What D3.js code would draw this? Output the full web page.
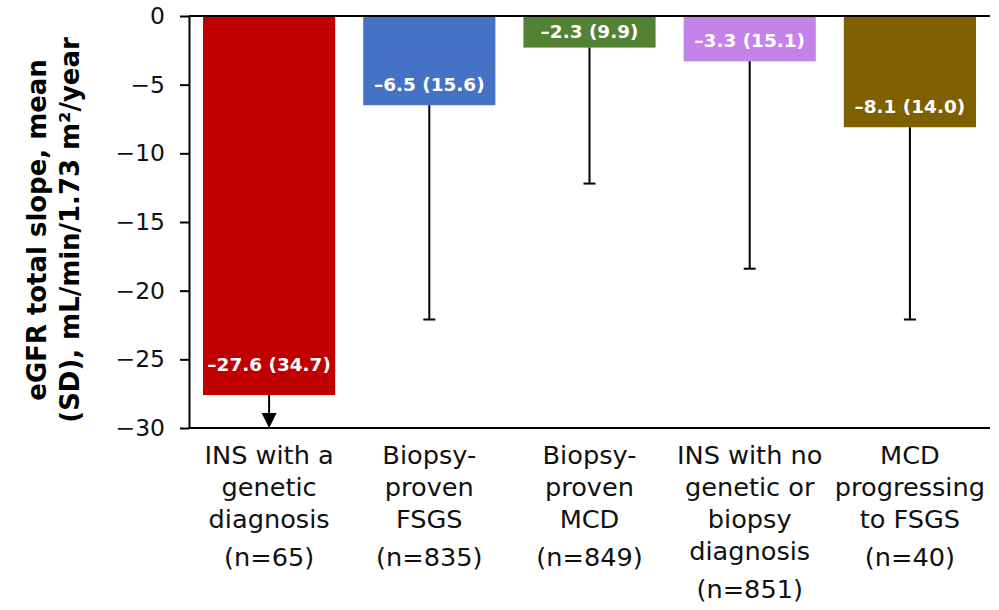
<!DOCTYPE html>
<html><head><meta charset="utf-8">
<script src="https://cdn.jsdelivr.net/npm/d3@7"></script>
<style>body{margin:0;background:#fff} svg{display:block}</style>
</head><body>
<script>
const categories = [
  ["INS with a","genetic","diagnosis"],
  ["Biopsy-","proven","FSGS"],
  ["Biopsy-","proven","MCD"],
  ["INS with no","genetic or","biopsy","diagnosis"],
  ["MCD","progressing","to FSGS"]
];
const nLabels = ["(n=65)","(n=835)","(n=849)","(n=851)","(n=40)"];
const means = [-27.6, -6.5, -2.3, -3.3, -8.1];
const sds = [34.7, 15.6, 9.9, 15.1, 14.0];
const colors = ["#C00000","#4472C4","#548235","#C383E8","#7F6000"];
const yTicks = [0, -5, -10, -15, -20, -25, -30];
const yTitle = ["eGFR total slope, mean", "(SD), mL/min/1.73 m\u00B2/year"];

const W = 999, H = 610;
const FONT = "'DejaVu Sans', sans-serif";
const svg = d3.select("body").append("svg").attr("width", W).attr("height", H)
  .style("font-family", FONT);

const x = d3.scaleBand().domain(d3.range(means.length)).range([189, 990])
  .paddingInner(0.175).paddingOuter(0.0875);
const y = d3.scaleLinear().domain([0, -30]).range([16, 428]);

function fitSize(text, target, base, weight) {
  const t = svg.append("text").style("font-family", FONT).style("font-size", base + "px")
    .style("font-weight", weight || "normal").text(text);
  const w = t.node().getComputedTextLength();
  t.remove();
  return base * target / w;
}

const tickFS = fitSize("\u221210", 45, 20) * 1.1;
const catFS = fitSize("INS with a", 122, 20) * 1.06;
const barFS = fitSize("\u221227.6 (34.7)", 118, 18, "bold") * 1.1;
const titleFS = fitSize(yTitle[0], 335, 22, "bold") * 1.02;

// bars
svg.append("g").selectAll("rect").data(means).join("rect")
  .attr("x", (d, i) => x(i)).attr("width", x.bandwidth())
  .attr("y", y(0)).attr("height", d => y(d) - y(0))
  .attr("fill", (d, i) => colors[i]);

// error bars
const yMin = y.domain()[1];
means.forEach((m, i) => {
  const cx = x(i) + x.bandwidth() / 2;
  const low = m - sds[i];
  if (low < yMin) {
    const tip = y(yMin);
    svg.append("line").attr("x1", cx).attr("x2", cx).attr("y1", y(m)).attr("y2", tip - 12)
      .attr("stroke", "#000").attr("stroke-width", 2);
    svg.append("path").attr("d", `M${cx - 7.5},${tip - 15}L${cx + 7.5},${tip - 15}L${cx},${tip}Z`)
      .attr("fill", "#000");
  } else {
    svg.append("line").attr("x1", cx).attr("x2", cx).attr("y1", y(m)).attr("y2", y(low))
      .attr("stroke", "#000").attr("stroke-width", 2);
    svg.append("line").attr("x1", cx - 6).attr("x2", cx + 6).attr("y1", y(low)).attr("y2", y(low))
      .attr("stroke", "#000").attr("stroke-width", 2);
  }
});

// bar value labels
const fmt = v => (v < 0 ? "\u2013" : "") + Math.abs(v).toFixed(1);
svg.append("g").selectAll("text").data(means).join("text")
  .attr("x", (d, i) => x(i) + x.bandwidth() / 2)
  .attr("y", (d, i) => {
    const top = y(0), bot = y(d);
    if (bot - top < 40) return (top + bot) / 2 + barFS * 0.36;
    if (d - sds[i] < yMin) return bot - 24;
    return bot - 14;
  })
  .attr("text-anchor", "middle").attr("fill", "#fff")
  .style("font-weight", "bold").style("font-size", barFS + "px")
  .text((d, i) => `${fmt(d)} (${sds[i].toFixed(1)})`);

// y axis
const yAxis = d3.axisLeft(y).tickValues(yTicks).tickSize(9).tickSizeOuter(0).tickPadding(15)
  .tickFormat(d3.format("d"));
const ga = svg.append("g").attr("transform", "translate(189,0)").call(yAxis);
ga.select(".domain").attr("stroke", "#000").attr("stroke-width", 2);
ga.selectAll(".tick line").attr("stroke", "#000").attr("stroke-width", 2);
ga.selectAll(".tick text").style("font-family", FONT).style("font-size", tickFS + "px").attr("fill", "#111");

// horizontal lines at 0 and -30
[0, -30].forEach(v => {
  svg.append("line").attr("x1", 189).attr("x2", 990).attr("y1", y(v)).attr("y2", y(v))
    .attr("stroke", "#000").attr("stroke-width", 2);
});

// category labels
const lineH = 32, firstBase = y(-30) + 36, nGap = 38;
categories.forEach((lines, i) => {
  const cx = x(i) + x.bandwidth() / 2;
  const t = svg.append("text").attr("text-anchor", "middle").attr("fill", "#111")
    .style("font-size", catFS + "px");
  lines.forEach((l, j) => {
    t.append("tspan").attr("x", cx).attr("y", firstBase + j * lineH).text(l);
  });
  t.append("tspan").attr("x", cx).attr("y", firstBase + (lines.length - 1) * lineH + nGap).text(nLabels[i]);
});

// y title
const titleG = svg.append("g").attr("transform", "translate(0,230)");
[46, 79].forEach((bx, j) => {
  titleG.append("text").attr("transform", `translate(${bx},0) rotate(-90)`)
    .attr("text-anchor", "middle").style("font-weight", "bold").style("font-size", titleFS + "px")
    .attr("fill", "#000").text(yTitle[j]);
});
</script>
</body></html>
